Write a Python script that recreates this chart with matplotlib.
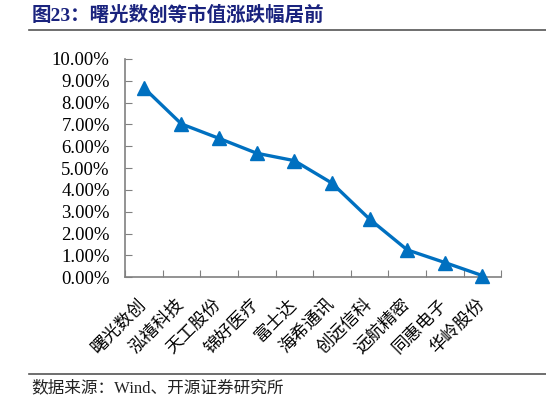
import matplotlib
matplotlib.use("Agg")
import matplotlib.pyplot as plt
import matplotlib.transforms as mtransforms
import numpy as np

# data
companies = ["曙光数创", "泓禧科技", "天工股份", "锦好医疗", "富士达",
             "海希通讯", "创远信科", "远航精密", "同惠电子", "华岭股份"]
change_pct = [8.68, 7.02, 6.36, 5.68, 5.34, 4.31, 2.66, 1.25, 0.67, 0.07]
y_ticks = [0, 1, 2, 3, 4, 5, 6, 7, 8, 9, 10]

title = "图23：曙光数创等市值涨跌幅居前"
source = "数据来源：Wind、开源证券研究所"

cjk = ["Noto Sans CJK SC", "DejaVu Sans"]
serif = ["Liberation Serif", "Noto Sans CJK SC", "DejaVu Serif"]

fig = plt.figure(figsize=(5.46, 4.04), dpi=100)
ax = fig.add_axes([0.229, 0.314, 0.689, 0.540])

x = np.arange(len(companies))
ax.plot(x, change_pct, color="#0070C0", lw=2.4, marker="^", ms=10.5,
        markerfacecolor="#0070C0", markeredgecolor="#0070C0", clip_on=False, zorder=3)

ax.set_xlim(-0.5, len(companies) - 0.5)
ax.set_ylim(0, 10)

# ticks between categories, labels at category centres
ax.set_xticks(np.arange(len(companies) + 1) - 0.5)
ax.set_xticklabels([])
ax.set_xticks(x, minor=True)
ax.set_xticklabels(companies, minor=True, rotation=45, ha="right", va="top",
                   rotation_mode="anchor", family=cjk, fontsize=12.5)
ax.tick_params(axis="x", which="minor", length=0, pad=13)
ax.tick_params(axis="x", which="major", direction="in", length=5, color="#808080")
shift = mtransforms.ScaledTranslation(-7 / 100, 0, fig.dpi_scale_trans)
for lbl in ax.get_xticklabels(minor=True):
    lbl.set_transform(lbl.get_transform() + shift)

ax.set_yticks(y_ticks)
ax.set_yticklabels([f"{v:.2f}%" for v in y_ticks], family=serif, fontsize=13.5)
ax.tick_params(axis="y", direction="in", length=5, color="#808080", pad=11)

for side in ["top", "right"]:
    ax.spines[side].set_visible(False)
for side in ["left", "bottom"]:
    ax.spines[side].set_color("#808080")
    ax.spines[side].set_linewidth(1.2)

# header and footer
fig.text(0.058, 0.962, title, family=serif, fontsize=14, fontweight="bold",
         color="#1A237E", ha="left", va="center")
fig.add_artist(plt.Line2D([0.053, 1.0], [0.926, 0.926], color="#555555", lw=1.2))
fig.add_artist(plt.Line2D([0.053, 1.0], [0.074, 0.074], color="#555555", lw=1.2))
fig.text(0.058, 0.038, source, family=serif, fontsize=12, color="#222222",
         ha="left", va="center")

fig.savefig("out.png", dpi=100)
